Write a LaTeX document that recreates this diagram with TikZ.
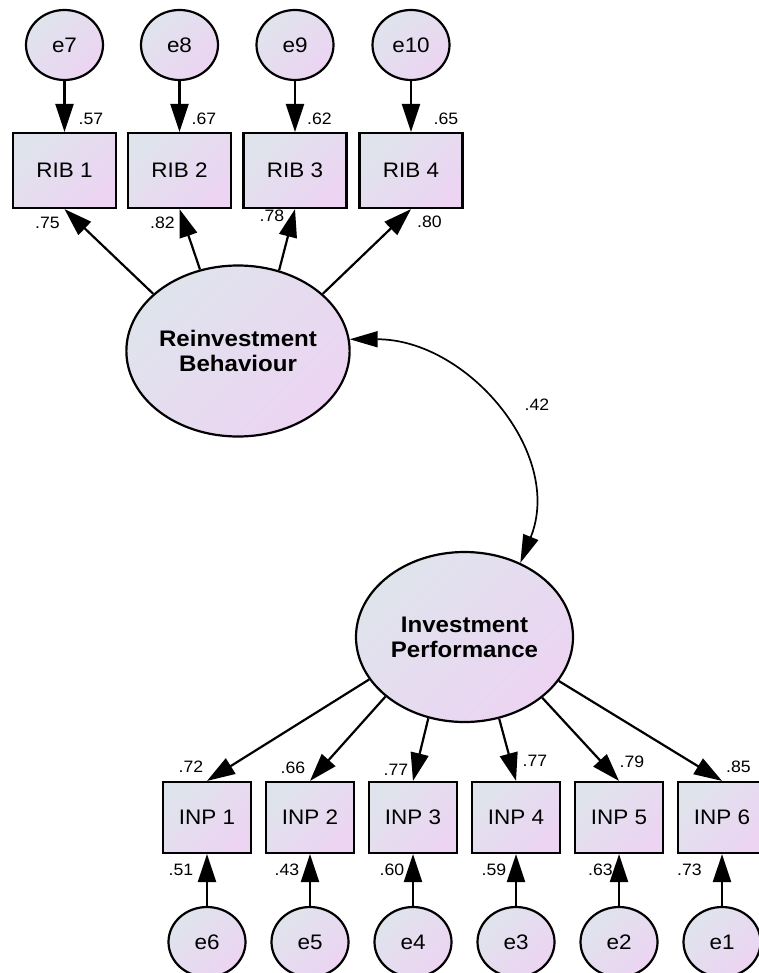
\documentclass[tikz,border=0pt]{standalone}
\usepackage{fontspec}
\setmainfont{Liberation Sans}[FakeStretch=1.07]
\usetikzlibrary{shapes.geometric,arrows.meta}
\definecolor{fillA}{RGB}{223,228,236}
\definecolor{fillB}{RGB}{236,212,242}

\begin{document}
\begin{tikzpicture}[x=1pt,y=-1pt,
  shadefill/.style={top color=fillA,bottom color=fillB,shading angle=45},
  obs/.style={draw,line width=2.2pt,shadefill,rectangle,inner sep=0pt,
    font=\fontsize{21}{24}\selectfont},
  ribbox/.style={obs,minimum width=103pt,minimum height=75pt},
  inpbox/.style={obs,minimum width=88pt,minimum height=71pt},
  err/.style={draw,line width=2.2pt,shadefill,ellipse,inner sep=0pt,
    minimum width=77pt,minimum height=70pt,font=\fontsize{21}{24}\selectfont},
  latent/.style={draw,line width=2.2pt,shadefill,ellipse,inner sep=0pt,
    align=center,font=\fontsize{22.5}{25}\selectfont\bfseries},
  load/.style={line width=2.2pt,-{Triangle[length=28pt,width=18pt]}},
  covar/.style={line width=1.7pt,
    {Triangle[length=28pt,width=16pt]}-{Triangle[length=28pt,width=16pt]}},
  est/.style={font=\fontsize{16.5}{18}\selectfont,inner sep=0pt},
]
\useasboundingbox (0,0) rectangle (758,973);

% latent factors
\node[latent,minimum width=219pt,minimum height=171pt] (rb) at (238,351) {Reinvestment\\Behaviour};
\node[latent,minimum width=217pt,minimum height=170pt] (ip) at (464.5,637) {Investment\\Performance};

% reinvestment behaviour indicators and their errors
\node[ribbox] (r1) at (64.5,170.5) {RIB 1};
\node[ribbox] (r2) at (179.5,170.5) {RIB 2};
\node[ribbox] (r3) at (295,170.5) {RIB 3};
\node[ribbox] (r4) at (411,170.5) {RIB 4};
\node[err] (e7) at (64.5,45) {e7};
\node[err] (e8) at (179.5,45) {e8};
\node[err] (e9) at (295,45) {e9};
\node[err] (e10) at (411,45) {e10};

% investment performance indicators and their errors
\node[inpbox] (i1) at (207,817.5) {INP 1};
\node[inpbox] (i2) at (310,817.5) {INP 2};
\node[inpbox] (i3) at (413,817.5) {INP 3};
\node[inpbox] (i4) at (516,817.5) {INP 4};
\node[inpbox] (i5) at (619,817.5) {INP 5};
\node[inpbox] (i6) at (722,817.5) {INP 6};
\node[err] (e6) at (207,942) {e6};
\node[err] (e5) at (310,942) {e5};
\node[err] (e4) at (413,942) {e4};
\node[err] (e3) at (516,942) {e3};
\node[err] (e2) at (619,942) {e2};
\node[err] (e1) at (722,942) {e1};

% error paths
\foreach \e/\o in {e7/r1,e8/r2,e9/r3,e10/r4,e6/i1,e5/i2,e4/i3,e3/i4,e2/i5,e1/i6}
  \draw[load] (\e) -- (\o);

% factor loadings
\draw[load] (rb.146.6) -- (r1.south);
\draw[load] (rb.115.7) -- (r2.south);
\draw[load] (rb.63.7) -- (r3.south);
\draw[load] (rb.34.6) -- (r4.south);
\draw[load] (ip.204.2) -- (i1.north);
\draw[load] (ip.217.5) -- (i2.north);
\draw[load] (ip.246.9) -- (i3.north);
\draw[load] (ip.293.7) -- (i4.north);
\draw[load] (ip.322.2) -- (i5.north);
\draw[load] (ip.335.8) -- (i6.north);

% factor correlation
\draw[covar] (rb.6) to[out=0,in=68,looseness=1.07] (ip.53);

% estimates
\node[est] (s57) at (91,119) {.57};
\node[est] (s67) at (204,119) {.67};
\node[est] (s62) at (319.5,119) {.62};
\node[est] (s65) at (446,119) {.65};
\node[est] (s75) at (47.5,223) {.75};
\node[est] (s82) at (162.5,223) {.82};
\node[est] (s78) at (272,216) {.78};
\node[est] (s80) at (429.5,222) {.80};
\node[est] (s42) at (537,405) {.42};
\node[est] (s72) at (191,767) {.72};
\node[est] (s66) at (293,768) {.66};
\node[est] (s77a) at (396,770) {.77};
\node[est] (s77b) at (535,761) {.77};
\node[est] (s79) at (632,762) {.79};
\node[est] (s85) at (738.5,767) {.85};
\node[est] (s51) at (181,870) {.51};
\node[est] (s43) at (287,870) {.43};
\node[est] (s60) at (392,870) {.60};
\node[est] (s59) at (494,870) {.59};
\node[est] (s63) at (600.5,870) {.63};
\node[est] (s73) at (689.5,870) {.73};
\end{tikzpicture}
\end{document}
